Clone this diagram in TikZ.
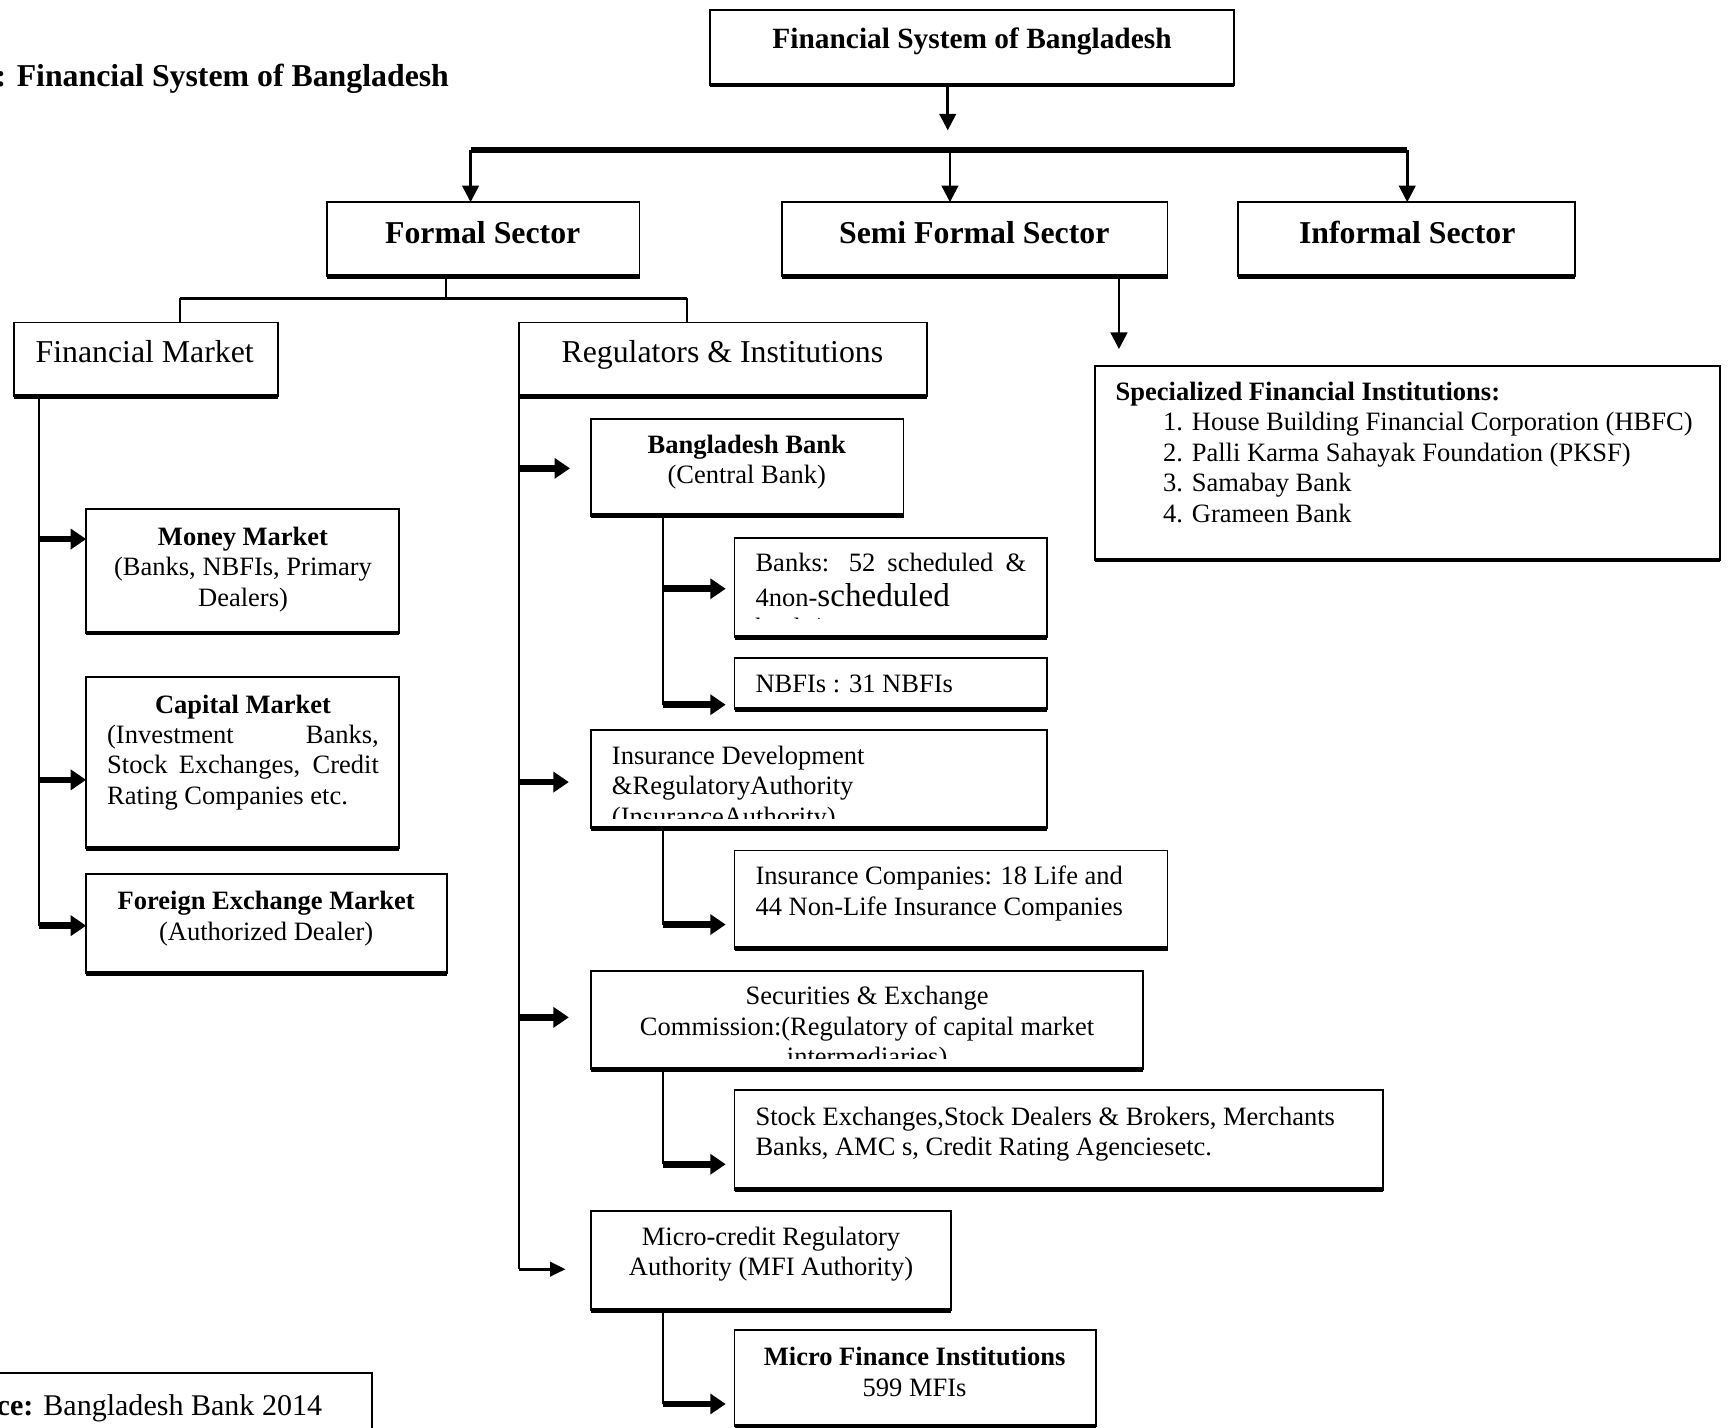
\documentclass[tikz,border=0pt]{standalone}
\usepackage{fontspec}
\setmainfont{Liberation Serif}
\usetikzlibrary{arrows.meta,calc}
\tikzset{
 box/.style={draw, line width=0.8pt, rectangle, inner sep=0pt, outer sep=0pt, anchor=north west},
 botline/.style={line width=2.2pt},
 tx/.style={inner sep=0pt, outer sep=0pt, font=\fontsize{12}{13.8}\selectfont},
 hd/.style={inner sep=0pt, outer sep=0pt, font=\fontsize{14.4}{16.6}\selectfont},
 hdb/.style={inner sep=0pt, outer sep=0pt, font=\fontsize{14.4}{16.6}\selectfont\bfseries},
 conn/.style={line width=1pt},
 bus/.style={line width=2.5pt},
 busb/.style={line width=1.5pt},
 thinarr/.style={line width=1.2pt, -{Triangle[length=7.5pt,width=7.5pt]}},
 fatarr/.style={line width=3pt, -{Triangle[length=7pt,width=9pt]}},
 smallarr/.style={line width=1.2pt, -{Triangle[length=7pt,width=6.5pt]}},
}
\newcommand\mybox[5]{%
 \pgfmathsetmacro\bxw{(#4-(#2))*0.5}%
 \pgfmathsetmacro\bxh{(#5-(#3))*0.5}%
 \node[box, minimum width=\bxw pt, minimum height=\bxh pt] (#1) at (#2,#3) {};%
 \draw[botline] (#1.south west) -- (#1.south east);}
\begin{document}
\begin{tikzpicture}[x=0.5pt,y=-0.5pt]
\fill[white] (0,0) rectangle (1568,1292);
\useasboundingbox (0,0) rectangle (1568,1292);
% ---------- boxes
\mybox{title}{643}{9}{1117}{77}
\mybox{fs}{296}{183}{579}{250}
\mybox{sf}{708}{183}{1057}{250}
\mybox{inf}{1121}{183}{1426}{250}
\mybox{fm}{13}{292}{252}{359}
\mybox{ri}{470}{292}{839}{359}
\mybox{sp}{991}{331}{1557}{507}
\mybox{mm}{78}{461}{361}{573}
\mybox{cm}{78}{613}{361}{768}
\mybox{fx}{78}{791}{405}{881}
\mybox{bb}{535}{379}{818}{467}
\mybox{bk}{665}{487}{948}{577}
\mybox{nb}{665}{596}{948}{642}
\mybox{ins}{535}{661}{948}{750}
\mybox{ic}{665}{770}{1057}{859}
\mybox{sec}{535}{879}{1035}{968}
\mybox{st}{665}{987}{1252}{1077}
\mybox{mc}{535}{1096}{861}{1186}
\mybox{mf}{665}{1204}{992}{1291}
\mybox{src}{-10}{1243}{337}{1320}
% ---------- texts
\node[tx, font=\fontsize{13.3}{15.3}\selectfont\bfseries, anchor=base] (title-t) at (880,44) {Financial System of Bangladesh};
\node[hdb, anchor=base west] (cap-t) at (-4,78) {: Financial System of Bangladesh};
\node[hdb, anchor=base] (fs-t) at (437,220) {Formal Sector};
\node[hdb, anchor=base] (sf-t) at (882,220) {Semi Formal Sector};
\node[hdb, anchor=base] (inf-t) at (1274,220) {Informal Sector};
\node[hd, anchor=base] (fm-t) at (131,328) {Financial Market};
\node[hd, anchor=base] (ri-t) at (654,328) {Regulators \& Institutions};
\node[tx, anchor=north west, align=left] (sp-t) at (1010,343.2) {\strut\textbf{Specialized Financial Institutions:}\\\hspace*{21.5pt}1. House Building Financial Corporation (HBFC)\\\hspace*{21.5pt}2. Palli Karma Sahayak Foundation (PKSF)\\\hspace*{21.5pt}3. Samabay Bank\\\hspace*{21.5pt}4. Grameen Bank};
\node[tx, anchor=north, align=center] (mm-t) at (220,474.2) {\strut\textbf{Money Market}\\(Banks, NBFIs, Primary\\Dealers)};
\node[tx, anchor=base] (cm-h) at (220,645.5) {\textbf{Capital Market}};
\node[tx, anchor=north west, text width=123pt, align=justify] (cm-t) at (97,653.7) {\strut(Investment Banks,\linebreak Stock Exchanges, Credit\linebreak Rating Companies etc.};
\node[tx, anchor=north, align=center] (fx-t) at (241,804.2) {\strut\textbf{Foreign Exchange Market}\\(Authorized Dealer)};
\node[tx, anchor=north, align=center] (bb-t) at (676,391.2) {\strut\textbf{Bangladesh Bank}\\(Central Bank)};
\begin{scope}
\clip (bk.north west) rectangle ($(bk.south east)+(0,-17)$);
\node[tx, anchor=north west, text width=122.5pt, align=justify] (bk-t) at (684,498.2) {\strut Banks: 52 scheduled \&\linebreak 4non-{\fontsize{15}{17}\selectfont scheduled}\\banks)};
\end{scope}
\node[tx, anchor=base west] (nb-t) at (684,626.5) {NBFIs : 31 NBFIs};
\begin{scope}
\clip (ins.north west) rectangle ($(ins.south east)+(0,-9)$);
\node[tx, anchor=north west, align=left] (ins-t) at (554,672.7) {\strut Insurance Development\\\&RegulatoryAuthority\\(InsuranceAuthority)};
\end{scope}
\node[tx, anchor=north west, align=left] (ic-t) at (684,781.7) {\strut Insurance Companies: 18 Life and\\44 Non-Life Insurance Companies};
\begin{scope}
\clip (sec.north west) rectangle ($(sec.south east)+(0,-10)$);
\node[tx, anchor=north, align=center] (sec-t) at (785,890.2) {\strut Securities \& Exchange\\Commission:(Regulatory of capital market\\intermediaries)};
\end{scope}
\node[tx, anchor=north west, align=left] (st-t) at (684,999.2) {\strut Stock Exchanges,Stock Dealers \& Brokers, Merchants\\Banks, AMC s, Credit Rating Agenciesetc.};
\node[tx, anchor=north, align=center] (mc-t) at (698,1108.2) {\strut Micro-credit Regulatory\\Authority (MFI Authority)};
\node[tx, anchor=north, align=center] (mf-t) at (828,1217.2) {\strut\textbf{Micro Finance Institutions}\\599 MFIs};
\node[inner sep=0pt, outer sep=0pt, font=\fontsize{13.6}{16}\selectfont, anchor=base west] (src-t) at (-3,1281) {\textbf{ce:} Bangladesh Bank 2014};
% ---------- connectors: top level
\coordinate (j0) at (858,118);
\draw[thinarr] ($(title.south west)+(215,0)$) -- (j0);
\coordinate (busL) at (426,136);
\coordinate (busM) at (860,136);
\coordinate (busR) at (1274,136);
\draw[bus] (busL) -- (busR);
\draw[thinarr] (busL) -- (busL |- fs.north);
\draw[thinarr] (busM) -- (busM |- sf.north);
\draw[thinarr] (busR) -- (busR |- inf.north);
% formal split
\coordinate (fsd) at (404,270);
\coordinate (fbL) at (163,270);
\coordinate (fbR) at (622,270);
\draw[conn] (fsd |- fs.south) -- (fsd);
\draw[busb] (fbL) -- (fbR);
\draw[conn] (fbL) -- (fbL |- fm.north);
\draw[conn] (fbR) -- (fbR |- ri.north);
% semi formal
\coordinate (sfx) at (1013,316);
\draw[thinarr] (sfx |- sf.south) -- (sfx);
% financial market trunk
\coordinate (t1) at (35,0);
\coordinate (mmin) at ($(mm.north west)+(0,27)$);
\coordinate (cmin) at ($(cm.north west)+(0,93)$);
\coordinate (fxin) at ($(fx.north west)+(0,47)$);
\draw[conn] (t1 |- fm.south) -- (t1 |- fxin);
\draw[fatarr] (t1 |- mmin) -- (mmin);
\draw[fatarr] (t1 |- cmin) -- (cmin);
\draw[fatarr] (t1 |- fxin) -- (fxin);
% regulators trunk
\coordinate (t2) at (470,0);
\coordinate (bbin) at ($(bb.north west)+(-19,45)$);
\coordinate (idin) at ($(ins.north west)+(-20,47)$);
\coordinate (secin) at ($(sec.north west)+(-20,42)$);
\coordinate (mcin) at ($(mc.north west)+(-23,53)$);
\draw[conn] (ri.south west) -- (t2 |- mcin);
\draw[fatarr] (t2 |- bbin) -- (bbin);
\draw[fatarr] (t2 |- idin) -- (idin);
\draw[fatarr] (t2 |- secin) -- (secin);
\draw[smallarr] (t2 |- mcin) -- (mcin);
% sub trunks
\coordinate (t3) at (600,0);
\coordinate (bkin) at ($(bk.north west)+(-8,46)$);
\coordinate (nbin) at ($(nb.north west)+(-8,42)$);
\coordinate (icin) at ($(ic.north west)+(-8,67)$);
\coordinate (stin) at ($(st.north west)+(-8,67)$);
\coordinate (mfin) at ($(mf.north west)+(-8,67)$);
\draw[conn] (t3 |- bb.south) -- (t3 |- nbin);
\draw[fatarr] (t3 |- bkin) -- (bkin);
\draw[fatarr] (t3 |- nbin) -- (nbin);
\draw[conn] (t3 |- ins.south) -- (t3 |- icin);
\draw[fatarr] (t3 |- icin) -- (icin);
\draw[conn] (t3 |- sec.south) -- (t3 |- stin);
\draw[fatarr] (t3 |- stin) -- (stin);
\draw[conn] (t3 |- mc.south) -- (t3 |- mfin);
\draw[fatarr] (t3 |- mfin) -- (mfin);
\end{tikzpicture}
\end{document}
